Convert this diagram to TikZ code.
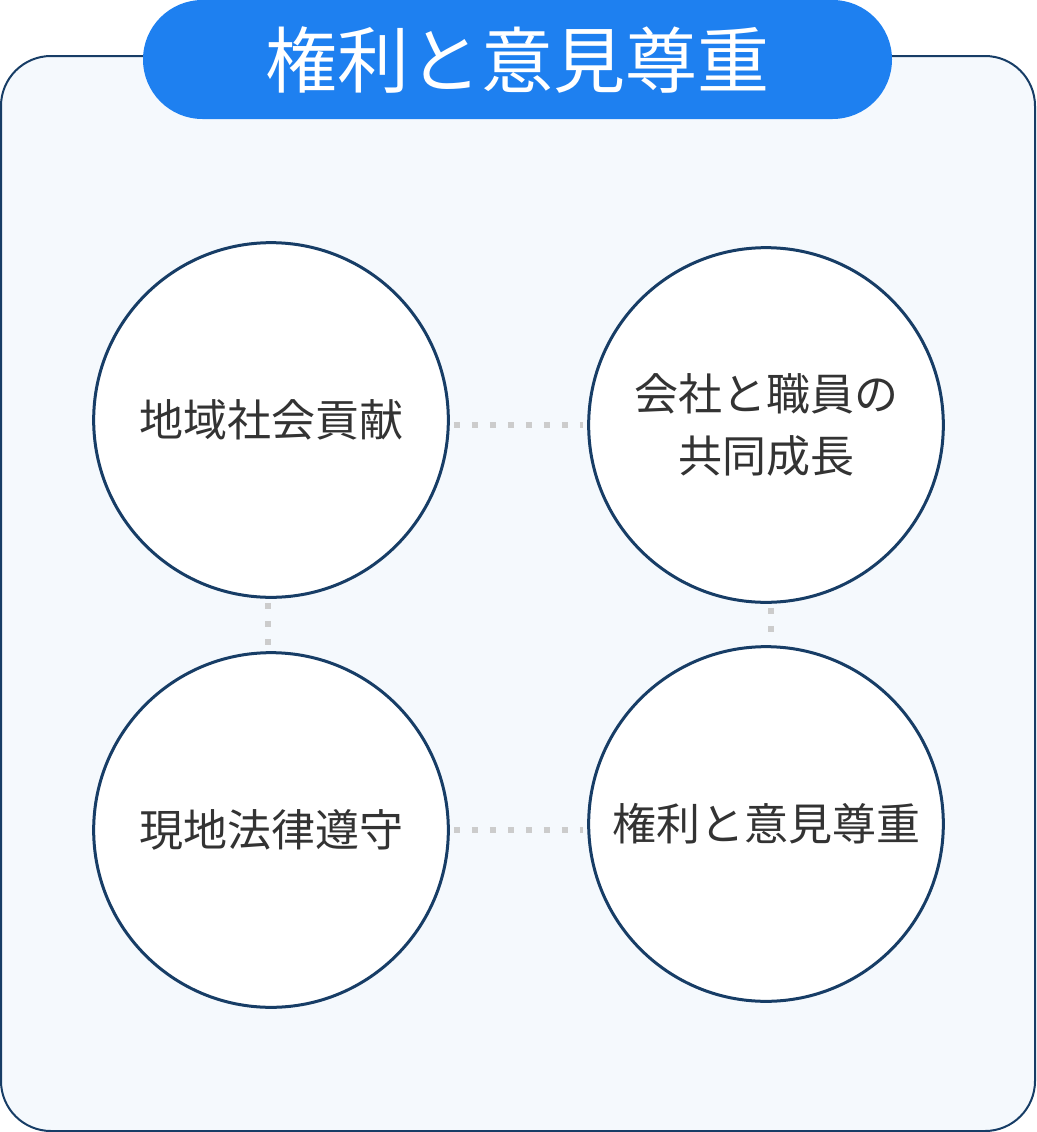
\documentclass[tikz,border=0pt]{standalone}
\usepackage{fontspec}
\newfontfamily\jp{Noto Sans CJK JP}
\definecolor{boxfill}{HTML}{F5F9FD}
\definecolor{navy}{HTML}{173D66}
\definecolor{pill}{HTML}{1E80F0}
\definecolor{txt}{HTML}{333333}
\definecolor{dotgray}{HTML}{CCCCCC}
\tikzset{
  bubble/.style={circle, draw=navy, fill=white, line width=2.25pt, minimum size=266pt, inner sep=0pt, align=center, font=\jp\fontsize{33pt}{47pt}\selectfont, text=txt},
  link/.style={draw=dotgray, line width=4.5pt, dash pattern=on 4.5pt off 9pt, shorten <=3pt, shorten >=3pt}
}
\begin{document}
\begin{tikzpicture}[x=0.75pt,y=-0.75pt]
\useasboundingbox (0,0) rectangle (1037,1132);
\draw[navy, fill=boxfill, line width=1.5pt, rounded corners=37.5pt] (1,56) rectangle (1035,1131);
\fill[pill, rounded corners=44.6pt] (143,0) rectangle (892,119);
\node[text=white, font=\jp\fontsize{54pt}{60pt}\selectfont] (title) at (517.5,60) {権利と意見尊重};
\node[bubble] (tl) at (271,420) {地域社会貢献};
\node[bubble] (tr) at (766,425) {会社と職員の\\共同成長};
\node[bubble] (bl) at (271,830) {現地法律遵守};
\node[bubble] (br) at (766,824) {権利と意見尊重};
\draw[link] (tl.east |- tr.west) -- (tr.west);
\draw[link] (bl.east) -- (bl.east -| br.west);
\draw[link] ([xshift=-2.25pt]tl.south) -- ([xshift=-2.25pt]bl.north);
\draw[link] ([xshift=3.75pt]tr.south) -- ([xshift=3.75pt]br.north);
\end{tikzpicture}
\end{document}
